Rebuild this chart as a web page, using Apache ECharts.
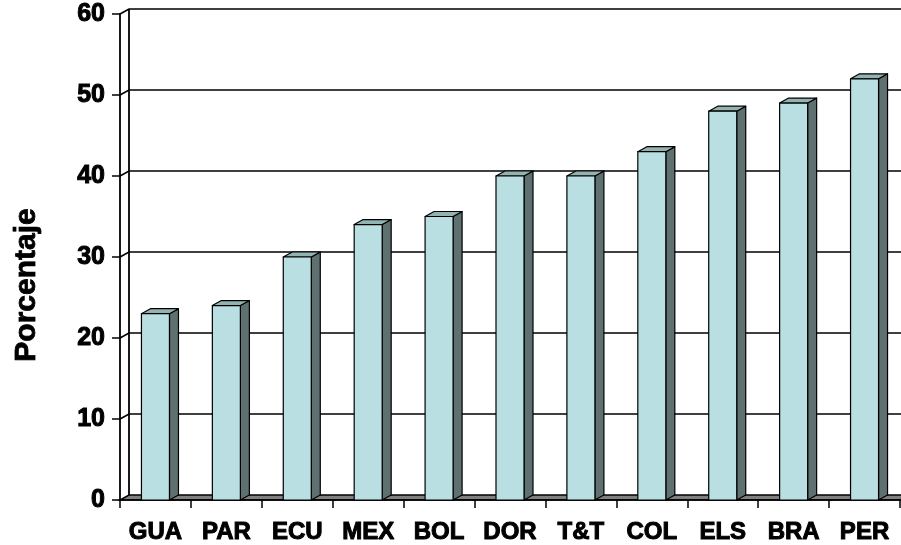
<!DOCTYPE html>
<html><head><meta charset="utf-8">
<script src="https://cdn.jsdelivr.net/npm/echarts@6/dist/echarts.min.js"></script>
<style>html,body{margin:0;padding:0;background:#fff}#c{width:901px;height:545px}</style>
</head><body><div id="c"></div>
<script>
const categories = ['GUA','PAR','ECU','MEX','BOL','DOR','T&T','COL','ELS','BRA','PER'];
const values = [23,24,30,34,35,40,40,43,48,49,52];
const yTicks = [0,10,20,30,40,50,60];
const axisName = 'Porcentaje';

const DX = 9, DY = -5;
const FONT = '"Liberation Sans", Arial, sans-serif';

const chart = echarts.init(document.getElementById('c'), null, {renderer:'canvas'});

function renderGrid(params, api){
  const cs = params.coordSys;
  const v = api.value(1);
  const y = api.coord([0, v])[1];
  const x0 = cs.x, x1 = cs.x + cs.width;
  const children = [];
  if (v === 0) {
    children.push({type:'polygon', shape:{points:[[x0,y],[x1,y],[x1+DX,y+DY],[x0+DX,y+DY]]},
      style:{fill:'#808080', stroke:'#000', lineWidth:1.5}});
    children.push({type:'line', shape:{x1:x0+DX, y1:y+DY, x2:x0+DX, y2:cs.y+DY}, style:{stroke:'#000', lineWidth:1.8}});
  } else {
    children.push({type:'polyline', shape:{points:[[x0,y],[x0+DX,y+DY],[x1+DX+5,y+DY]]},
      style:{stroke:'#000', fill:null, lineWidth:1.7}});
  }
  return {type:'group', children};
}

function renderBar(params, api){
  const i = api.value(0), v = api.value(1);
  const top = api.coord([i, v]);
  const bot = api.coord([i, 0]);
  const w = api.size([1, 0])[0] * 0.395;
  const xl = top[0] - w/2, xr = top[0] + w/2;
  const yt = top[1], yb = bot[1];
  const st = {stroke:'#000', lineWidth:1.2, lineJoin:'round'};
  return {type:'group', children:[
    {type:'polygon', shape:{points:[[xr,yt],[xr+DX,yt+DY],[xr+DX,yb+DY],[xr,yb]]}, style:Object.assign({fill:'#5E7070'}, st)},
    {type:'polygon', shape:{points:[[xl,yt],[xr,yt],[xr+DX,yt+DY],[xl+DX,yt+DY]]}, style:Object.assign({fill:'#93B3B3'}, st)},
    {type:'rect', shape:{x:xl, y:yt, width:w, height:yb-yt}, style:Object.assign({fill:'#B9DFE2'}, st)}
  ]};
}

chart.setOption({
  animation:false,
  backgroundColor:'#fff',
  grid:{left:120, right:1, top:14, bottom:45, containLabel:false},
  graphic:[{type:'text', x:27, y:285, rotation:Math.PI/2,
    style:{text:axisName, fill:'#000', font:'bold 30px ' + FONT, align:'center', verticalAlign:'middle',
      stroke:'#000', lineWidth:0.8}}],
  xAxis:{type:'category', data:categories, boundaryGap:true,
    axisLine:{show:true, lineStyle:{color:'#000', width:1.5}},
    axisTick:{show:true, length:8, lineStyle:{color:'#000', width:1.5}},
    axisLabel:{color:'#000', fontFamily:FONT, fontWeight:'bold', fontSize:24, margin:20, interval:0,
      textBorderColor:'#000', textBorderWidth:1},
    splitLine:{show:false}, z:1},
  yAxis:{type:'value', min:0, max:60, interval:10,
    axisLine:{show:true, lineStyle:{color:'#000', width:1.8}},
    axisTick:{show:true, length:8, lineStyle:{color:'#000', width:1.5}},
    axisLabel:{color:'#000', fontFamily:FONT, fontWeight:'bold', fontSize:25, margin:15,
      padding:[4,0,0,0], textBorderColor:'#000', textBorderWidth:1},
    splitLine:{show:false}},
  series:[
    {type:'custom', renderItem:renderGrid, data:yTicks.map(v=>[0,v]), encode:{x:0,y:1}, z:0, silent:true, clip:false},
    {type:'custom', renderItem:renderBar, data:values.map((v,i)=>[i,v]), encode:{x:0,y:1}, z:3, silent:true, clip:false}
  ]
});
</script></body></html>
